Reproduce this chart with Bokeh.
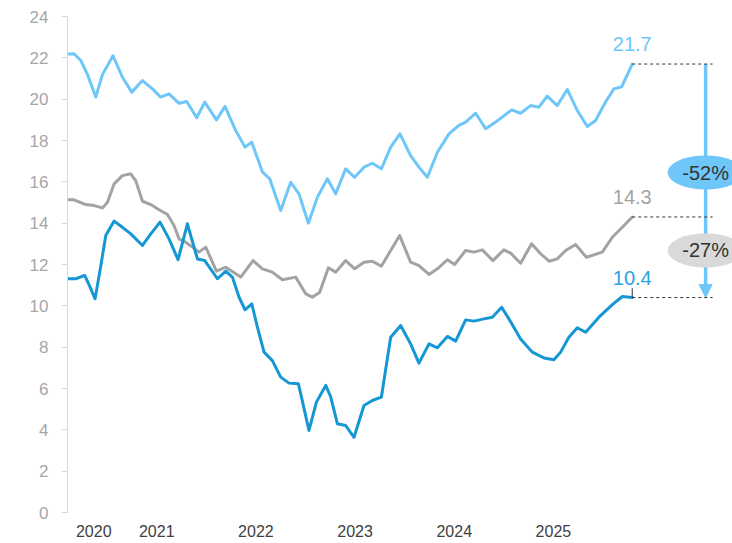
from bokeh.plotting import figure
from bokeh.models import Range1d, FixedTicker, Arrow, NormalHead
from bokeh.core.properties import value
from bokeh.embed import file_html
from bokeh.resources import INLINE

# ---- data (decimal year, value) ----
light_x = [2020.100, 2020.165, 2020.234, 2020.301, 2020.385, 2020.453, 2020.559, 2020.654, 2020.748, 2020.856,
           2020.957, 2021.040, 2021.124, 2021.225, 2021.302, 2021.403, 2021.484, 2021.602, 2021.689, 2021.796,
           2021.890, 2021.958, 2022.066, 2022.139, 2022.250, 2022.351, 2022.434, 2022.529, 2022.620, 2022.721,
           2022.804, 2022.905, 2022.996, 2023.090, 2023.174, 2023.265, 2023.359, 2023.453, 2023.560, 2023.644,
           2023.729, 2023.830, 2023.947, 2024.047, 2024.115, 2024.216, 2024.317, 2024.417, 2024.579, 2024.669,
           2024.770, 2024.854, 2024.938, 2025.039, 2025.140, 2025.241, 2025.342, 2025.425, 2025.526, 2025.610,
           2025.688, 2025.795]
light_y = [22.19, 22.2, 21.87, 21.2, 20.1, 21.2, 22.1, 21.06, 20.34, 20.9,
           20.5, 20.1, 20.26, 19.8, 19.89, 19.1, 19.86, 19.0, 19.65, 18.48,
           17.68, 17.92, 16.47, 16.15, 14.61, 15.98, 15.42, 14.0, 15.26, 16.15,
           15.42, 16.63, 16.22, 16.71, 16.9, 16.63, 17.68, 18.32, 17.27, 16.71,
           16.22, 17.43, 18.32, 18.73, 18.89, 19.32, 18.57, 18.89, 19.48, 19.32,
           19.69, 19.61, 20.15, 19.69, 20.47, 19.45, 18.68, 18.97, 19.86, 20.5,
           20.6, 21.7]

gray_x = [2020.100, 2020.165, 2020.284, 2020.368, 2020.453, 2020.503, 2020.570, 2020.654, 2020.738, 2020.788,
          2020.856, 2020.940, 2021.023, 2021.108, 2021.174, 2021.225, 2021.292, 2021.360, 2021.426, 2021.494,
          2021.602, 2021.696, 2021.847, 2021.971, 2022.066, 2022.166, 2022.267, 2022.401, 2022.502, 2022.570,
          2022.643, 2022.731, 2022.804, 2022.905, 2022.996, 2023.090, 2023.174, 2023.265, 2023.359, 2023.450,
          2023.560, 2023.644, 2023.745, 2023.830, 2023.931, 2024.004, 2024.115, 2024.199, 2024.283, 2024.390,
          2024.501, 2024.569, 2024.669, 2024.780, 2024.871, 2024.955, 2025.039, 2025.123, 2025.224, 2025.332,
          2025.493, 2025.594, 2025.695, 2025.795]
gray_y = [15.13, 15.13, 14.9, 14.85, 14.74, 15.01, 15.9, 16.3, 16.39, 16.06,
          15.06, 14.9, 14.65, 14.42, 13.89, 13.24, 13.08, 12.84, 12.6, 12.84,
          11.68, 11.87, 11.39, 12.19, 11.79, 11.63, 11.26, 11.39, 10.58, 10.42,
          10.66, 11.84, 11.63, 12.19, 11.79, 12.11, 12.16, 11.92, 12.68, 13.4,
          12.11, 11.95, 11.52, 11.79, 12.23, 12.0, 12.68, 12.6, 12.71, 12.19,
          12.71, 12.55, 12.06, 13.0, 12.52, 12.16, 12.27, 12.68, 12.97, 12.35,
          12.6, 13.32, 13.8, 14.3]

dark_x = [2020.100, 2020.183, 2020.274, 2020.328, 2020.378, 2020.428, 2020.486, 2020.570, 2020.654, 2020.738,
          2020.856, 2020.940, 2021.033, 2021.124, 2021.215, 2021.309, 2021.410, 2021.484, 2021.612, 2021.696,
          2021.763, 2021.830, 2021.890, 2021.958, 2022.015, 2022.082, 2022.166, 2022.250, 2022.334, 2022.428,
          2022.475, 2022.535, 2022.610, 2022.704, 2022.754, 2022.822, 2022.905, 2022.989, 2023.090, 2023.174,
          2023.265, 2023.359, 2023.460, 2023.560, 2023.644, 2023.745, 2023.830, 2023.931, 2024.014, 2024.115,
          2024.199, 2024.299, 2024.384, 2024.478, 2024.551, 2024.669, 2024.787, 2024.904, 2025.005, 2025.073,
          2025.156, 2025.241, 2025.325, 2025.459, 2025.594, 2025.695, 2025.795]
dark_y = [11.31, 11.31, 11.47, 10.9, 10.34, 11.71, 13.4, 14.1, 13.8, 13.48,
          12.92, 13.48, 14.05, 13.24, 12.23, 13.97, 12.27, 12.19, 11.31, 11.68,
          11.39, 10.42, 9.81, 10.1, 8.97, 7.76, 7.35, 6.55, 6.26, 6.23,
          5.26, 3.97, 5.34, 6.15, 5.6, 4.29, 4.21, 3.64, 5.18, 5.42,
          5.58, 8.48, 9.05, 8.16, 7.23, 8.16, 7.97, 8.52, 8.29, 9.32,
          9.26, 9.37, 9.45, 9.93, 9.37, 8.4, 7.76, 7.48, 7.39, 7.76,
          8.48, 8.94, 8.72, 9.45, 10.06, 10.45, 10.4]

end_labels = ["21.7", "14.3", "10.4"]
end_values = [21.7, 14.3, 10.4]
pct_labels = ["-52%", "-27%"]
pct_y = [16.45, 12.68]

y_ticks = [0, 2, 4, 6, 8, 10, 12, 14, 16, 18, 20, 22, 24]
x_tick_pos = [2020.365, 2021.0, 2022.0, 2023.0, 2024.0, 2025.0]
x_tick_labels = ["2020", "2021", "2022", "2023", "2024", "2025"]

LIGHT = "#6fc6f9"
DARK = "#1497d4"
GRAY = "#a3a3a3"
FONT = "Liberation Sans"

p = figure(width=732, height=543, output_backend="svg", toolbar_location=None,
           x_range=Range1d(2020.1, 2026.806), y_range=Range1d(0, 24),
           min_border_left=67, min_border_right=0, min_border_top=16, min_border_bottom=31)
p.outline_line_color = None
p.xgrid.visible = False
p.ygrid.visible = False
p.background_fill_color = "white"

# axes
p.yaxis.ticker = FixedTicker(ticks=y_ticks)
p.yaxis.axis_line_color = "#d9d9d9"
p.yaxis.major_tick_line_color = "#d9d9d9"
p.yaxis.major_tick_out = 6
p.yaxis.major_tick_in = 0
p.yaxis.minor_tick_line_color = None
p.yaxis.major_label_standoff = 13
p.yaxis.major_label_text_color = "#a6a6a6"
p.yaxis.major_label_text_font = FONT
p.yaxis.major_label_text_font_size = "17px"

p.xaxis.ticker = FixedTicker(ticks=x_tick_pos)
p.xaxis.major_label_overrides = {t: l for t, l in zip(x_tick_pos, x_tick_labels)}
p.xaxis.axis_line_color = None
p.xaxis.major_tick_line_color = None
p.xaxis.minor_tick_line_color = None
p.xaxis.major_tick_out = 0
p.xaxis.major_tick_in = 0
p.xaxis.major_label_standoff = 12
p.xaxis.major_label_text_color = "#404040"
p.xaxis.major_label_text_font = FONT
p.xaxis.major_label_text_font_size = "16px"

# series
for xs, ys, c in [(gray_x, gray_y, GRAY), (dark_x, dark_y, DARK), (light_x, light_y, LIGHT)]:
    p.line(xs, ys, line_color=c, line_width=3, line_join="round", line_cap="round")

last_x = light_x[-1]
dash_end = last_x + 0.81
arrow_x = last_x + 0.74

# dashed reference lines
p.segment(x0=[last_x] * 3, y0=end_values, x1=[dash_end] * 3, y1=end_values,
          line_color="#333333", line_width=1, line_dash="3 3")
p.segment(x0=[last_x], y0=[end_values[2]], x1=[last_x], y1=[end_values[2] + 0.45],
          line_color="#333333", line_width=1)

# end labels
p.text(x=[last_x] * 3, y=end_values, text=end_labels,
       text_color=[LIGHT, GRAY, "#2aa3df"], text_font=value(FONT), text_font_size="20px",
       text_align="center", text_baseline="bottom", y_offset=-13)

# arrow
arrow = Arrow(x_start=arrow_x, y_start=end_values[0], x_end=arrow_x, y_end=end_values[2],
              line_color=LIGHT, line_width=3.5, level="underlay",
              end=NormalHead(size=13, fill_color=LIGHT, line_color=LIGHT))
p.add_layout(arrow)

# pct bubbles
p.ellipse(x=[arrow_x] * 2, y=pct_y, width=76, height=34, width_units="screen", height_units="screen",
          fill_color=[LIGHT, "#d9d9d9"], line_color=None)
p.text(x=[arrow_x] * 2, y=pct_y, text=pct_labels, text_color="#333333",
       text_font=value(FONT), text_font_size="20px", text_align="center", text_baseline="middle")

open("out.html", "w").write(file_html(p, INLINE))
